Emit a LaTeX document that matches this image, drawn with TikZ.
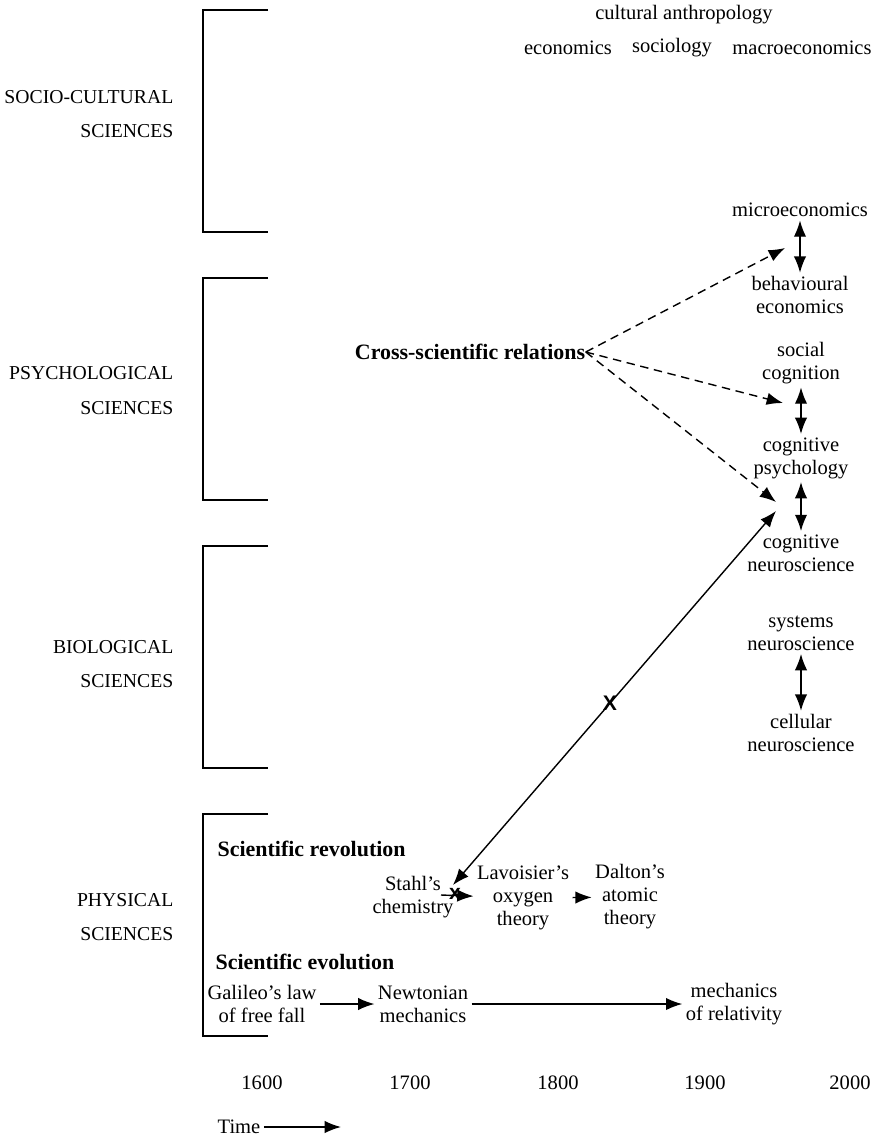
\documentclass[tikz,border=0pt]{standalone}
\usepackage{fontspec}
\setmainfont{Liberation Serif}
\setsansfont{Liberation Sans}
\usetikzlibrary{arrows.meta}

\tikzset{
  txt/.style={font=\fontsize{7.3}{8.2}\selectfont, align=center, inner sep=1pt},
  head/.style={font=\bfseries\fontsize{7.8}{9}\selectfont, anchor=west, inner sep=0pt},
  sclabel/.style={font=\fontsize{7}{8}\selectfont, anchor=east, inner sep=0pt},
  crossmark/.style={font=\sffamily\bfseries\fontsize{7.5}{8}\selectfont, inner sep=0pt},
}

\begin{document}
\begin{tikzpicture}[x=0.0125cm, y=-0.0125cm, line width=0.5pt,
    >={Latex[length=5.8pt,width=4.4pt]}]
\useasboundingbox (0,0) rectangle (877,1143);

% brackets for the four levels
\foreach \t in {10,278,546,814}
  \draw (268,\t) -- (203,\t) -- (203,\t+222) -- (268,\t+222);

\begin{scope}[every node/.style={sclabel}]
    \node (soc1) at (174,97) {SOCIO-CULTURAL};
    \node (soc2) at (174,131) {SCIENCES};
    \node (psy1) at (174,373) {PSYCHOLOGICAL};
    \node (psy2) at (174,408) {SCIENCES};
    \node (bio1) at (174,647) {BIOLOGICAL};
    \node (bio2) at (174,681) {SCIENCES};
    \node (phy1) at (174,900) {PHYSICAL};
    \node (phy2) at (174,934) {SCIENCES};
\end{scope}

\begin{scope}[every node/.style={txt}]
    % socio-cultural
    \node (anthro) at (684,15) {cultural anthropology};
    \node (econ) at (568,48) {economics};
    \node (sociol) at (672,48) {sociology};
    \node (macro) at (802,48) {macroeconomics};
    % right column
    \node (micro) at (800,210) {microeconomics};
    \node (behav) at (800,295) {behavioural\\economics};
    \node (social) at (801,363) {social\\cognition};
    \node (cogpsy) at (801,458) {cognitive\\psychology};
    \node (cogneu) at (801,553) {cognitive\\neuroscience};
    \node (sysneu) at (801,633) {systems\\neuroscience};
    \node (celneu) at (801,733) {cellular\\neuroscience};
    % physical sciences
    \node (stahl) at (413,897) {Stahl's\\chemistry};
    \node (lavoisier) at (523,898) {Lavoisier's\\oxygen\\theory};
    \node (dalton) at (630,897) {Dalton's\\atomic\\theory};
    \node (galileo) at (262,1004) {Galileo's law\\of free fall};
    \node (newton) at (423,1004) {Newtonian\\mechanics};
    \node (relativ) at (734,1004) {mechanics\\of relativity};
    % time axis
    \foreach \yr/\xx in {1600/262,1700/410,1800/558,1900/705,2000/850}
        \node (y\yr) at (\xx,1083) {\yr};
    \node (time) at (239,1127) {Time};
\end{scope}

\node[head, anchor=center] (cross) at (470,352) {Cross-scientific relations};
\node[head] (revol) at (217,849) {Scientific revolution};
\node[head] (evol) at (215,962) {Scientific evolution};

\coordinate (tomicro) at (785,248);
\coordinate (tosocial) at (783,403);
\coordinate (tocogpsy) at (776,502);
\coordinate (tocogneu) at (776,511);
\coordinate (tostahl) at (453,885);
\coordinate (stahlout) at (441,895);
\coordinate (timeend) at (341,1127);

\begin{scope}
    \path [<->] (micro) edge (behav);
    \path [<->] (social) edge (cogpsy);
    \path [<->] (cogpsy) edge (cogneu);
    \path [<->] (sysneu) edge (celneu);
    \path [->, dash pattern=on 3pt off 2pt] (cross.east) edge (tomicro);
    \path [->, dash pattern=on 3pt off 2pt] (cross.east) edge (tosocial);
    \path [->, dash pattern=on 3pt off 2pt] (cross.east) edge (tocogpsy);
    \path [<->] (tocogneu) edge (tostahl);
    \path [->] (stahlout) edge (lavoisier);
    \path [->] (lavoisier) edge (dalton);
    \path [->] (galileo) edge (newton);
    \path [->] (newton) edge (relativ);
    \path [->] (time) edge (timeend);
\end{scope}

\node[crossmark] (bigx) at (610,703) {X};
\node[crossmark] (smallx) at (455,894) {x};
\end{tikzpicture}
\end{document}
